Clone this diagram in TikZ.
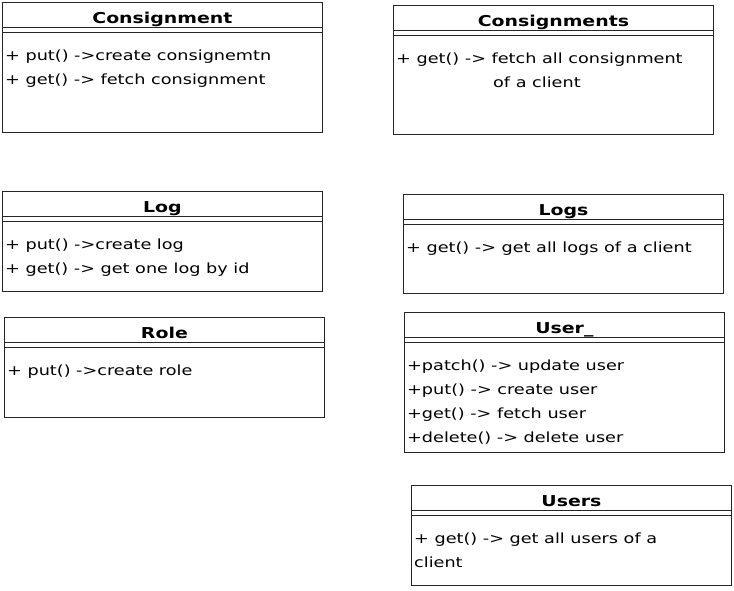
\documentclass[tikz,border=0pt]{standalone}
\usepackage{fontspec}
\setmainfont[FakeStretch=1.26]{DejaVu Sans}
\usetikzlibrary{positioning}
\newcommand{\classbox}[5]{%
  \node[classhead] (#1) at (#2) {#4};
  \node[classbody, minimum height=#3, below right=4pt and 0pt of #1.south west] (#1-body) {};
  \node[members] (#1-ops) at ([xshift=3pt,yshift=-18pt]#1-body.north west) {#5};
  \draw[frame] (#1.north west) rectangle (#1-body.south east);
}

\begin{document}
\begin{tikzpicture}[x=1pt,y=-1pt,
  frame/.style={draw=black!85,line width=0.8pt},
  classhead/.style={frame,anchor=north west,minimum width=320pt,minimum height=25pt,inner sep=0pt,text height=20pt,text depth=3pt,font=\fontsize{15}{17}\selectfont\bfseries},
  classbody/.style={frame,inner sep=0pt,minimum width=320pt},
  members/.style={anchor=north west,align=left,inner sep=0pt,font=\fontsize{14}{24}\selectfont}]
\useasboundingbox (0,0) rectangle (734,590);
%
% left column
  \classbox{consignment}{2,2}{100pt}{Consignment}{+ put() ->create consignemtn\\+ get() -> fetch consignment}
  \classbox{log}{2,191}{70pt}{Log}{+ put() ->create log\\+ get() -> get one log by id}
  \classbox{role}{4,317}{70pt}{Role}{+ put() ->create role}
%
% right column
  \classbox{consignments}{393,5}{99pt}{Consignments}{+ get() -> fetch all consignment\\\hspace*{97pt}of a client}
  \classbox{logs}{403,194}{69pt}{Logs}{+ get() -> get all logs of a client}
  \classbox{user}{404,312}{110pt}{User\_}{+patch() -> update user\\+put() -> create user\\+get() -> fetch user\\+delete() -> delete user}
  \classbox{users}{411,485}{70pt}{Users}{+ get() -> get all users of a\\client}
\end{tikzpicture}
\end{document}
